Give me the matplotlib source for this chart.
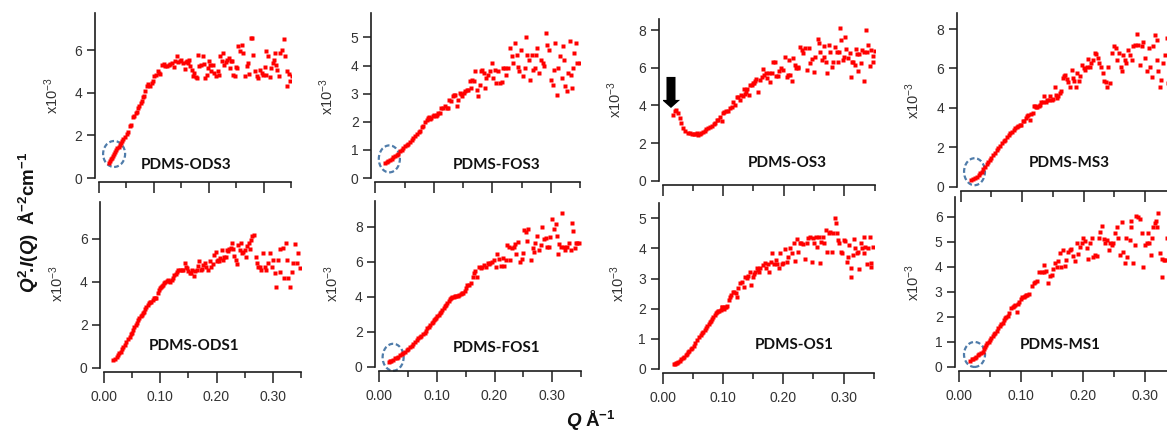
import matplotlib.pyplot as plt
from matplotlib.patches import Ellipse, FancyArrow

plt.rcParams['font.family'] = ['Liberation Sans', 'DejaVu Sans']
plt.rcParams['mathtext.fontset'] = 'custom'
plt.rcParams['mathtext.it'] = 'Liberation Sans:italic:bold'
plt.rcParams['mathtext.rm'] = 'Liberation Sans:bold'
plt.rcParams['mathtext.bf'] = 'Liberation Sans:bold'

# ---- data: Q (1/A) and Q^2.I(Q) (x1e-3) ----
q_ods3 = [0.018, 0.020, 0.022, 0.024, 0.026, 0.028, 0.030, 0.032, 0.034, 0.036,
          0.038, 0.040, 0.042, 0.045, 0.048, 0.051, 0.054, 0.057, 0.059, 0.062,
          0.064, 0.067, 0.069, 0.072, 0.074, 0.076, 0.078, 0.080, 0.082, 0.085,
          0.088, 0.090, 0.093, 0.096, 0.099, 0.101, 0.104, 0.107, 0.110, 0.112,
          0.115, 0.118, 0.121, 0.124, 0.127, 0.130, 0.133, 0.136, 0.139, 0.142,
          0.145, 0.147, 0.150, 0.153, 0.156, 0.158, 0.160, 0.162, 0.164, 0.166,
          0.169, 0.171, 0.174, 0.176, 0.178, 0.181, 0.183, 0.186, 0.189, 0.191,
          0.193, 0.196, 0.198, 0.201, 0.203, 0.205, 0.208, 0.210, 0.213, 0.216,
          0.218, 0.221, 0.224, 0.226, 0.228, 0.231, 0.233, 0.236, 0.239, 0.241,
          0.243, 0.245, 0.247, 0.249, 0.251, 0.254, 0.257, 0.260, 0.263, 0.266,
          0.269, 0.272, 0.274, 0.276, 0.279, 0.281, 0.284, 0.287, 0.290, 0.293,
          0.296, 0.299, 0.302, 0.304, 0.305, 0.308, 0.311, 0.313, 0.316, 0.318,
          0.320, 0.322, 0.324, 0.327, 0.330, 0.333, 0.336, 0.339, 0.342, 0.343,
          0.346, 0.348, 0.351]
i_ods3 = [0.72, 0.80, 0.88, 0.96, 1.05, 1.13, 1.22, 1.30, 1.39, 1.48,
          1.57, 1.66, 1.76, 1.85, 1.93, 2.05, 2.15, 2.45, 2.50, 2.85,
          2.92, 3.05, 3.10, 3.30, 3.37, 3.55, 3.62, 3.80, 3.84, 4.08,
          4.35, 4.40, 4.32, 4.45, 4.55, 4.78, 4.85, 5.02, 4.95, 4.90,
          5.30, 5.35, 5.28, 5.25, 5.33, 5.38, 5.40, 5.20, 5.49, 5.72,
          5.45, 5.52, 5.55, 5.41, 5.14, 5.45, 5.52, 5.40, 5.57, 5.25,
          5.10, 4.78, 4.92, 4.75, 4.70, 5.80, 5.25, 5.30, 5.72, 5.35,
          4.70, 4.85, 5.17, 5.49, 5.30, 5.02, 5.33, 4.95, 4.78, 5.02,
          4.85, 5.72, 5.49, 5.90, 5.33, 5.45, 5.57, 5.64, 5.17, 5.50,
          5.49, 4.85, 4.78, 5.20, 5.17, 6.20, 5.96, 6.27, 5.88, 4.78,
          5.25, 5.41, 4.90, 6.59, 6.59, 5.80, 5.02, 4.78, 4.70, 5.10,
          4.94, 4.86, 5.20, 4.86, 5.96, 5.72, 4.75, 5.17, 5.41, 5.55,
          5.88, 5.30, 5.10, 4.81, 5.88, 6.04, 6.54, 5.72, 5.02, 4.34,
          4.90, 4.55, 4.78]

q_fos3 = [0.017, 0.020, 0.022, 0.025, 0.028, 0.031, 0.034, 0.037, 0.039, 0.042,
          0.045, 0.048, 0.051, 0.054, 0.056, 0.059, 0.062, 0.065, 0.068, 0.071,
          0.074, 0.076, 0.079, 0.082, 0.085, 0.088, 0.090, 0.092, 0.094, 0.096,
          0.098, 0.100, 0.103, 0.105, 0.108, 0.110, 0.113, 0.116, 0.119, 0.122,
          0.125, 0.126, 0.129, 0.132, 0.134, 0.136, 0.139, 0.142, 0.145, 0.147,
          0.149, 0.152, 0.154, 0.156, 0.159, 0.162, 0.164, 0.166, 0.168, 0.170,
          0.173, 0.176, 0.179, 0.181, 0.183, 0.185, 0.187, 0.190, 0.193, 0.196,
          0.199, 0.202, 0.205, 0.207, 0.210, 0.213, 0.216, 0.219, 0.221, 0.223,
          0.227, 0.230, 0.233, 0.236, 0.239, 0.242, 0.244, 0.246, 0.249, 0.252,
          0.255, 0.257, 0.260, 0.263, 0.264, 0.267, 0.270, 0.273, 0.275, 0.277,
          0.280, 0.283, 0.286, 0.288, 0.291, 0.294, 0.297, 0.300, 0.303, 0.305,
          0.307, 0.310, 0.313, 0.316, 0.319, 0.320, 0.323, 0.324, 0.327, 0.330,
          0.332, 0.334, 0.337, 0.338, 0.340, 0.343, 0.345, 0.349]
i_fos3 = [0.53, 0.57, 0.60, 0.65, 0.69, 0.73, 0.77, 0.83, 0.87, 0.95,
          1.01, 1.07, 1.13, 1.18, 1.22, 1.29, 1.36, 1.42, 1.48, 1.55,
          1.62, 1.66, 1.80, 1.84, 2.00, 2.08, 2.15, 2.17, 2.10, 2.14,
          2.20, 2.25, 2.22, 2.25, 2.30, 2.31, 2.49, 2.50, 2.55, 2.50,
          2.49, 2.79, 2.75, 2.90, 2.95, 2.97, 2.57, 2.79, 3.02, 3.00,
          2.90, 3.02, 3.10, 3.14, 3.14, 3.44, 3.20, 3.50, 3.45, 3.80,
          3.14, 2.90, 3.32, 3.80, 3.85, 3.75, 3.20, 3.56, 3.68, 3.80,
          4.09, 3.56, 3.85, 3.38, 3.80, 3.38, 3.40, 3.91, 3.90, 3.68,
          3.91, 4.63, 4.33, 4.09, 4.80, 4.39, 3.95, 3.80, 4.57, 3.62,
          3.91, 5.02, 4.39, 4.21, 3.50, 4.39, 3.85, 3.91, 4.39, 4.63,
          3.73, 4.21, 4.09, 3.97, 5.16, 4.74, 4.57, 3.50, 3.32, 3.85,
          4.80, 2.97, 3.91, 4.33, 3.56, 4.69, 4.21, 3.26, 3.08, 3.73,
          4.86, 3.68, 3.20, 3.91, 4.45, 4.80, 4.09, 4.09]

q_os3 = [0.017, 0.020, 0.022, 0.026, 0.029, 0.031, 0.034, 0.037, 0.041, 0.045,
         0.048, 0.051, 0.054, 0.056, 0.059, 0.062, 0.064, 0.067, 0.070, 0.072,
         0.075, 0.078, 0.081, 0.084, 0.087, 0.089, 0.092, 0.095, 0.098, 0.100,
         0.102, 0.105, 0.108, 0.112, 0.114, 0.116, 0.120, 0.122, 0.125, 0.127,
         0.130, 0.132, 0.134, 0.136, 0.138, 0.140, 0.142, 0.144, 0.147, 0.149,
         0.151, 0.153, 0.155, 0.158, 0.161, 0.164, 0.166, 0.168, 0.170, 0.172,
         0.175, 0.177, 0.180, 0.183, 0.186, 0.188, 0.190, 0.193, 0.196, 0.198,
         0.202, 0.205, 0.207, 0.209, 0.210, 0.214, 0.216, 0.219, 0.221, 0.223,
         0.224, 0.227, 0.230, 0.232, 0.235, 0.238, 0.241, 0.244, 0.247, 0.250,
         0.252, 0.256, 0.258, 0.260, 0.264, 0.266, 0.267, 0.270, 0.272, 0.274,
         0.277, 0.280, 0.282, 0.285, 0.288, 0.289, 0.292, 0.293, 0.295, 0.298,
         0.300, 0.301, 0.303, 0.306, 0.309, 0.311, 0.313, 0.315, 0.317, 0.319,
         0.321, 0.323, 0.325, 0.327, 0.329, 0.332, 0.333, 0.336, 0.338, 0.340,
         0.343, 0.345, 0.347, 0.348, 0.350]
i_os3 = [3.50, 3.72, 3.75, 3.61, 3.31, 3.05, 2.78, 2.64, 2.55, 2.52,
         2.50, 2.48, 2.50, 2.52, 2.42, 2.48, 2.55, 2.60, 2.65, 2.72,
         2.80, 2.83, 2.92, 3.00, 3.08, 3.20, 3.22, 3.36, 3.19, 3.58,
         3.65, 3.72, 3.70, 3.84, 3.90, 4.19, 4.02, 4.46, 4.45, 4.28,
         4.55, 4.50, 4.85, 4.60, 4.73, 4.85, 4.55, 5.08, 5.10, 5.17,
         5.20, 5.31, 5.42, 4.73, 5.35, 5.52, 5.91, 5.60, 5.70, 5.43,
         5.70, 5.26, 5.70, 6.32, 6.32, 5.55, 5.56, 5.82, 5.96, 5.88,
         6.58, 5.49, 5.60, 6.41, 5.61, 5.29, 6.50, 6.14, 6.00, 5.96,
         6.05, 7.12, 6.94, 6.76, 7.03, 5.88, 7.03, 6.23, 6.44, 5.79,
         6.58, 7.50, 7.29, 6.85, 6.41, 6.58, 7.15, 6.32, 5.73, 7.20,
         6.85, 6.05, 6.32, 7.12, 6.85, 6.32, 6.85, 8.09, 7.47, 6.41,
         6.55, 7.65, 6.97, 6.50, 6.80, 5.49, 6.32, 6.32, 6.14, 6.97,
         6.73, 5.82, 6.73, 6.23, 6.94, 5.29, 6.85, 8.00, 6.85, 7.20,
         6.09, 6.94, 6.62, 6.32, 6.90]

q_ms3 = [0.017, 0.020, 0.023, 0.026, 0.029, 0.032, 0.034, 0.037, 0.040, 0.043,
         0.045, 0.048, 0.050, 0.053, 0.056, 0.059, 0.061, 0.064, 0.067, 0.070,
         0.072, 0.075, 0.078, 0.080, 0.083, 0.086, 0.088, 0.091, 0.094, 0.097,
         0.099, 0.101, 0.103, 0.106, 0.108, 0.110, 0.113, 0.115, 0.117, 0.119,
         0.121, 0.123, 0.125, 0.127, 0.129, 0.131, 0.134, 0.136, 0.139, 0.141,
         0.143, 0.146, 0.148, 0.150, 0.153, 0.155, 0.157, 0.159, 0.161, 0.163,
         0.166, 0.168, 0.170, 0.173, 0.175, 0.178, 0.181, 0.183, 0.185, 0.187,
         0.190, 0.192, 0.195, 0.197, 0.200, 0.203, 0.205, 0.208, 0.211, 0.213,
         0.215, 0.218, 0.220, 0.223, 0.226, 0.228, 0.231, 0.234, 0.236, 0.238,
         0.240, 0.243, 0.246, 0.250, 0.253, 0.255, 0.258, 0.261, 0.263, 0.265,
         0.268, 0.270, 0.273, 0.276, 0.279, 0.281, 0.284, 0.287, 0.289, 0.292,
         0.295, 0.297, 0.300, 0.303, 0.306, 0.308, 0.311, 0.314, 0.317, 0.319,
         0.320, 0.322, 0.325, 0.327, 0.330, 0.333, 0.336, 0.338, 0.341, 0.344,
         0.347, 0.349]
i_ms3 = [0.34, 0.40, 0.46, 0.51, 0.60, 0.70, 0.76, 0.88, 1.02, 1.15,
         1.27, 1.37, 1.47, 1.60, 1.73, 1.85, 1.95, 2.08, 2.20, 2.30,
         2.37, 2.50, 2.63, 2.70, 2.80, 2.90, 2.97, 3.05, 3.10, 3.12,
         3.14, 3.35, 3.31, 3.47, 3.60, 3.64, 3.39, 3.70, 3.76, 4.12,
         4.10, 4.05, 4.07, 4.12, 4.15, 4.30, 4.32, 4.58, 4.32, 4.40,
         4.41, 4.61, 4.41, 4.45, 5.08, 4.66, 4.49, 4.60, 4.75, 4.88,
         5.51, 5.60, 5.68, 5.46, 5.29, 5.05, 5.93, 5.50, 5.34, 5.08,
         5.76, 5.34, 5.60, 6.19, 6.02, 5.93, 6.07, 6.47, 6.10, 6.30,
         6.44, 6.81, 6.75, 6.53, 6.27, 6.10, 5.76, 5.34, 5.30, 5.08,
         6.10, 5.25, 6.78, 7.12, 7.03, 6.44, 6.78, 6.10, 5.85, 6.69,
         6.44, 6.27, 6.95, 6.69, 6.44, 7.12, 7.20, 7.76, 7.20, 6.19,
         7.12, 7.32, 6.53, 5.85, 7.03, 6.10, 5.56, 7.12, 7.68, 7.46,
         6.44, 5.85, 5.08, 5.42, 6.27, 6.69, 7.54, 5.25, 6.10, 6.40,
         5.80, 6.60]

q_ods1 = [0.016, 0.019, 0.022, 0.025, 0.027, 0.029, 0.031, 0.034, 0.036, 0.039,
          0.042, 0.045, 0.047, 0.049, 0.051, 0.053, 0.056, 0.058, 0.060, 0.062,
          0.065, 0.067, 0.069, 0.071, 0.073, 0.075, 0.078, 0.080, 0.082, 0.084,
          0.087, 0.089, 0.091, 0.093, 0.095, 0.097, 0.099, 0.101, 0.103, 0.105,
          0.107, 0.109, 0.111, 0.113, 0.115, 0.117, 0.120, 0.123, 0.125, 0.127,
          0.130, 0.132, 0.135, 0.138, 0.141, 0.144, 0.146, 0.148, 0.150, 0.152,
          0.154, 0.157, 0.160, 0.162, 0.165, 0.167, 0.169, 0.172, 0.174, 0.176,
          0.179, 0.182, 0.185, 0.188, 0.191, 0.193, 0.196, 0.199, 0.201, 0.203,
          0.205, 0.207, 0.209, 0.212, 0.214, 0.216, 0.219, 0.221, 0.223, 0.225,
          0.227, 0.230, 0.232, 0.234, 0.236, 0.239, 0.241, 0.243, 0.246, 0.248,
          0.250, 0.252, 0.255, 0.257, 0.259, 0.261, 0.264, 0.267, 0.270, 0.272,
          0.274, 0.277, 0.280, 0.283, 0.286, 0.289, 0.292, 0.295, 0.298, 0.301,
          0.304, 0.306, 0.310, 0.313, 0.314, 0.318, 0.320, 0.323, 0.326, 0.328,
          0.331, 0.334, 0.337, 0.339, 0.343, 0.346, 0.348]
i_ods1 = [0.36, 0.39, 0.50, 0.59, 0.67, 0.75, 0.85, 0.98, 1.08, 1.21,
          1.33, 1.45, 1.55, 1.63, 1.75, 1.88, 2.00, 2.10, 2.20, 2.30,
          2.40, 2.46, 2.55, 2.61, 2.72, 2.81, 2.92, 3.00, 3.04, 3.08,
          3.15, 3.23, 3.24, 3.23, 3.50, 3.62, 3.70, 3.75, 3.80, 3.86,
          3.95, 4.01, 4.02, 4.09, 4.05, 4.01, 4.09, 4.17, 4.30, 4.37,
          4.45, 4.53, 4.56, 4.56, 4.56, 4.87, 4.70, 4.63, 4.50, 4.40,
          4.40, 4.56, 4.28, 4.50, 4.56, 4.75, 4.95, 4.56, 4.60, 4.79,
          4.87, 4.71, 4.56, 4.95, 4.71, 4.85, 5.26, 5.41, 4.95, 5.00,
          4.95, 5.10, 5.49, 5.02, 5.15, 5.18, 5.49, 5.45, 5.52, 5.60,
          5.83, 5.52, 5.20, 5.02, 4.84, 5.72, 5.50, 5.83, 5.33, 5.40,
          5.49, 5.18, 5.65, 5.80, 5.55, 5.96, 6.14, 6.19, 5.18, 4.87,
          4.71, 4.71, 4.56, 5.33, 4.71, 4.56, 4.87, 5.33, 4.71, 5.02,
          4.40, 3.78, 5.02, 4.48, 5.52, 5.57, 4.17, 5.83, 5.02, 4.17,
          3.75, 4.48, 4.87, 5.77, 4.87, 5.33, 4.63]

q_fos1 = [0.017, 0.019, 0.021, 0.024, 0.027, 0.030, 0.033, 0.036, 0.039, 0.042,
          0.045, 0.048, 0.050, 0.053, 0.056, 0.059, 0.062, 0.065, 0.068, 0.070,
          0.073, 0.076, 0.079, 0.081, 0.083, 0.086, 0.088, 0.091, 0.093, 0.095,
          0.097, 0.099, 0.101, 0.103, 0.105, 0.107, 0.109, 0.112, 0.114, 0.116,
          0.118, 0.121, 0.123, 0.125, 0.127, 0.129, 0.131, 0.134, 0.137, 0.139,
          0.141, 0.144, 0.146, 0.149, 0.151, 0.153, 0.156, 0.159, 0.162, 0.164,
          0.167, 0.170, 0.173, 0.176, 0.179, 0.182, 0.185, 0.188, 0.191, 0.193,
          0.195, 0.199, 0.203, 0.205, 0.208, 0.211, 0.214, 0.216, 0.220, 0.222,
          0.225, 0.227, 0.230, 0.233, 0.236, 0.238, 0.241, 0.244, 0.247, 0.250,
          0.252, 0.255, 0.257, 0.259, 0.263, 0.266, 0.268, 0.271, 0.274, 0.277,
          0.280, 0.283, 0.286, 0.289, 0.292, 0.295, 0.297, 0.300, 0.303, 0.306,
          0.308, 0.311, 0.312, 0.315, 0.318, 0.321, 0.323, 0.326, 0.329, 0.332,
          0.335, 0.337, 0.340, 0.341, 0.344, 0.347]
i_fos1 = [0.25, 0.30, 0.34, 0.41, 0.48, 0.52, 0.57, 0.65, 0.72, 0.80,
          0.86, 0.94, 1.01, 1.10, 1.20, 1.30, 1.39, 1.50, 1.62, 1.68,
          1.75, 1.85, 1.94, 2.05, 2.19, 2.28, 2.38, 2.48, 2.57, 2.65,
          2.72, 2.80, 2.90, 2.98, 3.05, 3.15, 3.24, 3.35, 3.47, 3.55,
          3.66, 3.78, 3.85, 3.92, 3.96, 4.00, 4.04, 4.05, 4.06, 4.10,
          4.15, 4.20, 4.23, 4.34, 4.50, 4.67, 4.67, 4.76, 5.10, 5.37,
          5.49, 5.14, 5.71, 5.62, 5.71, 5.81, 5.71, 5.90, 5.87, 5.95,
          6.00, 6.10, 5.71, 6.44, 6.13, 5.75, 6.19, 5.75, 6.10, 6.95,
          6.86, 6.10, 6.76, 6.86, 7.01, 6.44, 7.14, 6.00, 6.13, 6.51,
          7.81, 7.71, 7.20, 7.90, 6.10, 6.76, 6.57, 7.09, 7.47, 6.67,
          6.95, 8.00, 7.28, 7.33, 6.86, 6.82, 7.39, 8.42, 7.85, 8.15,
          7.47, 6.44, 7.01, 6.82, 8.80, 6.86, 6.70, 6.86, 7.09, 6.67,
          8.23, 7.75, 6.76, 7.05, 7.09, 7.05]

q_os1 = [0.018, 0.020, 0.022, 0.024, 0.026, 0.028, 0.030, 0.033, 0.035, 0.038,
         0.040, 0.042, 0.044, 0.047, 0.049, 0.052, 0.054, 0.057, 0.060, 0.063,
         0.065, 0.067, 0.070, 0.072, 0.074, 0.076, 0.078, 0.080, 0.082, 0.084,
         0.086, 0.088, 0.090, 0.092, 0.094, 0.096, 0.098, 0.099, 0.101, 0.103,
         0.105, 0.107, 0.110, 0.112, 0.114, 0.117, 0.119, 0.121, 0.124, 0.125,
         0.128, 0.131, 0.134, 0.136, 0.139, 0.141, 0.144, 0.146, 0.149, 0.151,
         0.153, 0.156, 0.158, 0.160, 0.162, 0.166, 0.169, 0.171, 0.174, 0.177,
         0.180, 0.182, 0.185, 0.188, 0.190, 0.193, 0.194, 0.197, 0.200, 0.203,
         0.206, 0.208, 0.211, 0.214, 0.217, 0.219, 0.222, 0.225, 0.228, 0.230,
         0.233, 0.236, 0.239, 0.241, 0.244, 0.247, 0.250, 0.251, 0.254, 0.256,
         0.259, 0.261, 0.263, 0.265, 0.267, 0.271, 0.273, 0.275, 0.277, 0.280,
         0.283, 0.285, 0.287, 0.289, 0.291, 0.293, 0.296, 0.298, 0.300, 0.303,
         0.305, 0.307, 0.309, 0.312, 0.313, 0.315, 0.318, 0.319, 0.322, 0.324,
         0.326, 0.328, 0.330, 0.333, 0.334, 0.336, 0.338, 0.340, 0.343, 0.345,
         0.346, 0.348]
i_os1 = [0.15, 0.17, 0.19, 0.21, 0.24, 0.28, 0.32, 0.36, 0.41, 0.46,
         0.50, 0.55, 0.60, 0.66, 0.71, 0.78, 0.85, 0.96, 1.05, 1.13,
         1.18, 1.24, 1.30, 1.35, 1.42, 1.49, 1.55, 1.60, 1.66, 1.71,
         1.78, 1.85, 1.89, 1.92, 1.94, 1.96, 2.05, 2.07, 2.00, 2.05,
         2.07, 2.09, 2.29, 2.40, 2.46, 2.57, 2.55, 2.53, 2.40, 2.68,
         2.84, 2.90, 2.73, 3.04, 3.01, 3.10, 3.23, 2.79, 3.06, 3.15,
         3.23, 3.34, 3.28, 3.23, 3.34, 3.45, 3.53, 3.34, 3.50, 3.23,
         3.56, 3.84, 3.50, 3.62, 3.50, 3.34, 3.84, 3.50, 3.53, 3.97,
         3.56, 3.71, 4.00, 3.86, 4.19, 3.60, 4.30, 3.89, 4.17, 4.19,
         4.14, 3.64, 4.17, 4.36, 4.37, 3.54, 4.34, 4.19, 4.37, 4.06,
         4.37, 3.53, 4.23, 4.39, 4.19, 4.61, 3.89, 4.50, 4.56, 3.87,
         4.50, 5.00, 4.83, 4.50, 4.28, 4.19, 3.89, 3.86, 4.28, 4.26,
         3.54, 3.73, 4.11, 3.34, 3.04, 3.78, 4.30, 4.00, 3.84, 3.89,
         3.31, 4.19, 4.00, 4.39, 3.86, 4.06, 3.50, 4.00, 4.39, 3.40,
         3.53, 4.06]

q_ms1 = [0.017, 0.020, 0.022, 0.025, 0.027, 0.030, 0.032, 0.035, 0.038, 0.040,
         0.041, 0.043, 0.045, 0.048, 0.050, 0.052, 0.054, 0.056, 0.058, 0.061,
         0.063, 0.066, 0.068, 0.070, 0.072, 0.074, 0.076, 0.078, 0.081, 0.083,
         0.086, 0.088, 0.090, 0.093, 0.095, 0.097, 0.099, 0.102, 0.104, 0.106,
         0.108, 0.110, 0.113, 0.117, 0.120, 0.123, 0.126, 0.129, 0.133, 0.136,
         0.137, 0.140, 0.144, 0.146, 0.149, 0.152, 0.155, 0.157, 0.160, 0.163,
         0.165, 0.168, 0.171, 0.173, 0.176, 0.179, 0.181, 0.184, 0.187, 0.190,
         0.192, 0.195, 0.198, 0.200, 0.203, 0.206, 0.208, 0.211, 0.214, 0.216,
         0.219, 0.222, 0.225, 0.227, 0.230, 0.233, 0.235, 0.238, 0.241, 0.243,
         0.246, 0.249, 0.251, 0.254, 0.257, 0.260, 0.262, 0.265, 0.268, 0.269,
         0.271, 0.275, 0.277, 0.278, 0.280, 0.284, 0.286, 0.289, 0.292, 0.295,
         0.297, 0.300, 0.303, 0.305, 0.307, 0.309, 0.311, 0.313, 0.316, 0.318,
         0.320, 0.321, 0.324, 0.327, 0.328, 0.331, 0.333, 0.335]
i_ms1 = [0.24, 0.29, 0.31, 0.36, 0.40, 0.46, 0.51, 0.55, 0.60, 0.72,
         0.80, 0.86, 0.93, 1.00, 1.07, 1.15, 1.23, 1.30, 1.36, 1.44,
         1.53, 1.63, 1.70, 1.76, 1.85, 1.93, 1.98, 2.03, 2.13, 2.33,
         2.37, 2.42, 2.47, 2.20, 2.51, 2.60, 2.69, 2.77, 2.80, 2.83,
         2.85, 2.87, 2.89, 3.23, 3.36, 3.40, 3.44, 3.80, 3.80, 4.07,
         3.80, 3.84, 3.33, 3.63, 3.67, 3.89, 4.13, 4.00, 4.24, 4.53,
         4.00, 4.67, 4.03, 4.27, 4.60, 4.67, 4.69, 4.43, 4.23, 4.93,
         4.51, 4.80, 4.96, 5.13, 5.04, 4.73, 4.29, 4.96, 5.13, 4.37,
         4.47, 4.43, 5.13, 5.40, 5.63, 5.09, 4.93, 5.07, 4.67, 4.93,
         4.87, 4.93, 5.36, 5.60, 5.13, 4.47, 5.80, 4.60, 4.13, 5.13,
         4.40, 5.07, 5.60, 5.84, 4.16, 4.87, 6.03, 5.97, 5.89, 5.36,
         4.00, 4.87, 4.93, 5.36, 4.93, 4.47, 5.13, 5.60, 5.76, 5.84,
         5.57, 6.13, 4.53, 4.29, 3.60, 4.27, 4.27, 5.13]

x_ticks = [0.0, 0.1, 0.2, 0.3]
x_tick_labels = ['0.00', '0.10', '0.20', '0.30']
x_minor = [0.05, 0.15, 0.25, 0.35]

# ---- layout (pixel boxes in the 1167x434 image) ----
W, H = 1167, 434
panels = [
    # name, q, I, left, width, y0, top, ymax, yticks, title xy, x10 xy, ellipse
    ('PDMS-ODS3', q_ods3, i_ods3, 98.7, 192.5, 178.0, 13.0, 7.76, [0, 2, 4, 6],
     (186, 165), (52, 96), (0.028, 1.13, 0.040, 1.22)),
    ('PDMS-FOS3', q_fos3, i_fos3, 375.3, 204.8, 178.0, 13.0, 5.87, [0, 1, 2, 3, 4, 5],
     (497, 165), (327, 97), (0.024, 0.68, 0.036, 0.96)),
    ('PDMS-OS3', q_os3, i_os3, 662.7, 211.8, 180.7, 19.3, 8.57, [0, 2, 4, 6, 8],
     (787, 163), (615, 100), None),
    ('PDMS-MS3', q_ms3, i_ms3, 960.7, 214.9, 186.7, 13.3, 8.8, [0, 2, 4, 6, 8],
     (1069, 163), (913, 101), (0.0225, 0.76, 0.034, 1.37)),
    ('PDMS-ODS1', q_ods1, i_ods1, 104.3, 196.4, 367.7, 202.0, 7.72, [0, 2, 4, 6],
     (194, 346), (57, 284), None),
    ('PDMS-FOS1', q_fos1, i_fos1, 379.3, 201.6, 366.7, 200.7, 9.49, [0, 2, 4, 6, 8],
     (497, 348), (332, 284), (0.024, 0.54, 0.0365, 1.54)),
    ('PDMS-OS1', q_os1, i_os1, 662.7, 211.1, 369.0, 203.3, 5.5, [0, 1, 2, 3, 4, 5],
     (794, 345), (618, 284), None),
    ('PDMS-MS1', q_ms1, i_ms1, 959.3, 216.7, 366.7, 196.7, 6.8, [0, 1, 2, 3, 4, 5, 6],
     (1060, 345), (913, 283), (0.0246, 0.49, 0.034, 1.0)),
]

ink = '#1e1e1e'
fig = plt.figure(figsize=(W / 100, H / 100), dpi=100)

for k, (name, q, iq, left, width, y0, top, ymax, yt, tpos, lpos, ell) in enumerate(panels):
    ax = fig.add_axes([left / W, 1 - y0 / H, width / W, (y0 - top) / H])
    ax.plot(q, iq, 's', ms=2.4, mfc='#ff0000', mec='none', ls='none')
    ax.set_xlim(0, 0.35)
    ax.set_ylim(0, ymax)
    ax.patch.set_alpha(0)
    for s in ['top', 'right']:
        ax.spines[s].set_visible(False)
    for s in ['left', 'bottom']:
        ax.spines[s].set_position(('outward', 3))
        ax.spines[s].set_linewidth(1.2)
        ax.spines[s].set_color(ink)
    ax.set_xticks(x_ticks)
    ax.set_xticks(x_minor, minor=True)
    ax.set_yticks(yt)
    ax.set_yticklabels([str(v) for v in yt])
    if k >= 4:
        ax.set_xticklabels(x_tick_labels)
    else:
        ax.set_xticklabels([])
    ax.tick_params(axis='x', which='major', length=8, width=1.1, color=ink,
                   labelsize=10, labelcolor='#333333', pad=5)
    ax.tick_params(axis='x', which='minor', length=4.5, width=1.1, color=ink)
    ax.tick_params(axis='y', length=6, width=1.1, color=ink,
                   labelsize=10, labelcolor='#333333', pad=3)
    ax.text(tpos[0] / W, 1 - tpos[1] / H, name, transform=fig.transFigure,
            ha='center', va='center', fontsize=11, fontweight='bold',
            family=['Lato', 'DejaVu Sans'], color='#111111')
    fig.text(lpos[0] / W, 1 - lpos[1] / H, r'x10$^{\mathregular{-3}}$', rotation=90,
             ha='center', va='center', fontsize=10.5, color='#333333')
    if ell is not None:
        ax.add_patch(Ellipse((ell[0], ell[1]), ell[2], ell[3], fill=False,
                             ec='#4f7caa', lw=1.6, ls=(0, (2.2, 1.2)), clip_on=False))
    if name == 'PDMS-OS3':
        ax.add_patch(FancyArrow(0.0137, 5.51, 0, -1.65, width=0.0149,
                                head_width=0.030, head_length=0.43,
                                length_includes_head=True, color='black', lw=0))

fig.text(29 / W, 1 - 222 / H, r'$Q^{2}\!.\!I(Q)\;\;\mathrm{Å^{-2}cm^{-1}}$',
         rotation=90, ha='center', va='center', fontsize=13.5, color='#111111')
fig.text(591 / W, 1 - 421 / H, r'$Q\;\mathrm{Å^{-1}}$',
         ha='center', va='center', fontsize=13.5, color='#111111')

fig.savefig('out.png', dpi=100)
